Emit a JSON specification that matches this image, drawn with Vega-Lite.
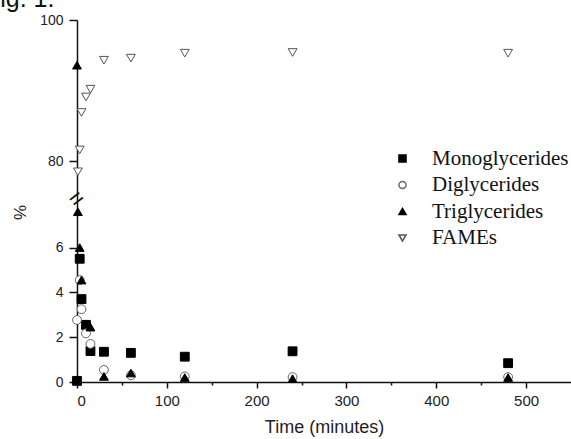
{
  "$schema": "https://vega.github.io/schema/vega-lite/v6.json",
  "width": 494,
  "height": 362,
  "autosize": "none",
  "padding": {"left": 77, "top": 20, "right": 0, "bottom": 57},
  "background": "white",
  "title": {"text": "Fig. 1.", "anchor": "start", "frame": "group", "dx": -92, "offset": 1, "fontSize": 25, "font": "Liberation Sans", "fontWeight": "normal", "color": "#111"},
  "config": {
    "view": {"stroke": null},
    "axis": {"grid": false, "domainColor": "#111", "domainWidth": 1.5, "tickColor": "#111", "tickWidth": 1.5, "labelFont": "Liberation Sans", "titleFont": "Liberation Sans", "labelColor": "#222", "titleColor": "#222", "titleFontWeight": "normal"}
  },
  "datasets": {
    "main": [
      {"series": "Monoglycerides", "time": 0, "pct": 0.05},
      {"series": "Monoglycerides", "time": 3, "pct": 5.5},
      {"series": "Monoglycerides", "time": 5, "pct": 3.7},
      {"series": "Monoglycerides", "time": 10, "pct": 2.55},
      {"series": "Monoglycerides", "time": 15, "pct": 1.38},
      {"series": "Monoglycerides", "time": 30, "pct": 1.35},
      {"series": "Monoglycerides", "time": 60, "pct": 1.3},
      {"series": "Monoglycerides", "time": 120, "pct": 1.13},
      {"series": "Monoglycerides", "time": 240, "pct": 1.37},
      {"series": "Monoglycerides", "time": 480, "pct": 0.84},
      {"series": "Diglycerides", "time": 0, "pct": 2.77},
      {"series": "Diglycerides", "time": 3, "pct": 4.55},
      {"series": "Diglycerides", "time": 5, "pct": 3.25},
      {"series": "Diglycerides", "time": 10, "pct": 2.17},
      {"series": "Diglycerides", "time": 15, "pct": 1.7},
      {"series": "Diglycerides", "time": 30, "pct": 0.54},
      {"series": "Diglycerides", "time": 60, "pct": 0.3},
      {"series": "Diglycerides", "time": 120, "pct": 0.25},
      {"series": "Diglycerides", "time": 240, "pct": 0.22},
      {"series": "Diglycerides", "time": 480, "pct": 0.22},
      {"series": "Triglycerides", "time": 0, "pct": 93.6},
      {"series": "Triglycerides", "time": 1, "pct": 7.6},
      {"series": "Triglycerides", "time": 3, "pct": 6.0},
      {"series": "Triglycerides", "time": 5, "pct": 4.55},
      {"series": "Triglycerides", "time": 10, "pct": 2.6},
      {"series": "Triglycerides", "time": 15, "pct": 2.45},
      {"series": "Triglycerides", "time": 30, "pct": 0.25},
      {"series": "Triglycerides", "time": 60, "pct": 0.4},
      {"series": "Triglycerides", "time": 120, "pct": 0.2},
      {"series": "Triglycerides", "time": 240, "pct": 0.15},
      {"series": "Triglycerides", "time": 480, "pct": 0.2},
      {"series": "FAMEs", "time": 1, "pct": 78.5},
      {"series": "FAMEs", "time": 3, "pct": 81.6},
      {"series": "FAMEs", "time": 5, "pct": 86.9},
      {"series": "FAMEs", "time": 10, "pct": 89.1},
      {"series": "FAMEs", "time": 15, "pct": 90.2},
      {"series": "FAMEs", "time": 30, "pct": 94.3},
      {"series": "FAMEs", "time": 60, "pct": 94.6},
      {"series": "FAMEs", "time": 120, "pct": 95.3},
      {"series": "FAMEs", "time": 240, "pct": 95.4},
      {"series": "FAMEs", "time": 480, "pct": 95.3}
    ],
    "brk": [{"time": 0, "pct": 40, "mark": "="}]
  },
  "layer": [
    {
      "data": {"name": "main"},
      "mark": {"type": "point", "filled": true, "size": 78, "strokeWidth": 1, "opacity": 1},
      "encoding": {
        "x": {
          "field": "time", "type": "quantitative",
          "scale": {"domain": [0, 550], "nice": false, "zero": false},
          "axis": {
            "title": "Time (minutes)", "titleFontSize": 18, "titlePadding": 10,
            "values": [0, 50, 100, 150, 200, 250, 300, 350, 400, 450, 500],
            "labelExpr": "datum.value % 100 === 0 ? datum.label : ''",
            "labelFontSize": 15, "labelPadding": 5,
            "tickSize": {"condition": {"test": "datum.value % 100 === 0", "value": 6}, "value": 3}
          }
        },
        "y": {
          "field": "pct", "type": "quantitative",
          "scale": {"domain": [0, 7.9, 75.5, 100], "range": [362, 185, 173, 0], "nice": false, "zero": false},
          "axis": {
            "title": "%", "titleFontSize": 17, "titleAngle": 270, "titleX": -57, "titleY": 192, "titleAlign": "center", "titleBaseline": "middle",
            "values": [0, 1, 2, 3, 4, 5, 6, 7, 80, 90, 100],
            "labelExpr": "indexof([0,2,4,6,80,100], datum.value) >= 0 ? datum.label : ''",
            "labelFontSize": 14, "labelPadding": 6,
            "tickSize": {"condition": {"test": "indexof([0,2,4,6,80,100], datum.value) >= 0", "value": 8}, "value": 4}
          }
        },
        "shape": {
          "field": "series", "type": "nominal",
          "scale": {"domain": ["Monoglycerides", "Diglycerides", "Triglycerides", "FAMEs"], "range": ["square", "circle", "triangle-up", "triangle-down"]},
          "legend": {
            "title": null, "orient": "none", "legendX": 315, "legendY": 128,
            "labelFont": "Liberation Serif", "labelFontSize": 21, "labelColor": "#111", "labelLimit": 300,
            "symbolSize": 50, "labelOffset": 19, "rowPadding": 4.5
          }
        },
        "fill": {
          "field": "series", "type": "nominal",
          "scale": {"domain": ["Monoglycerides", "Diglycerides", "Triglycerides", "FAMEs"], "range": ["#000000", "#ffffff", "#000000", "#ffffff"]},
          "legend": null
        },
        "stroke": {
          "field": "series", "type": "nominal",
          "scale": {"domain": ["Monoglycerides", "Diglycerides", "Triglycerides", "FAMEs"], "range": ["#000000", "#666666", "#000000", "#555555"]},
          "legend": null
        }
      }
    },
    {
      "data": {"name": "brk"},
      "mark": {"type": "text", "angle": -38, "fontSize": 24, "font": "Liberation Sans", "align": "center", "baseline": "middle", "color": "#111"},
      "encoding": {
        "x": {"field": "time", "type": "quantitative"},
        "y": {"field": "pct", "type": "quantitative"},
        "text": {"field": "mark"}
      }
    }
  ]
}
